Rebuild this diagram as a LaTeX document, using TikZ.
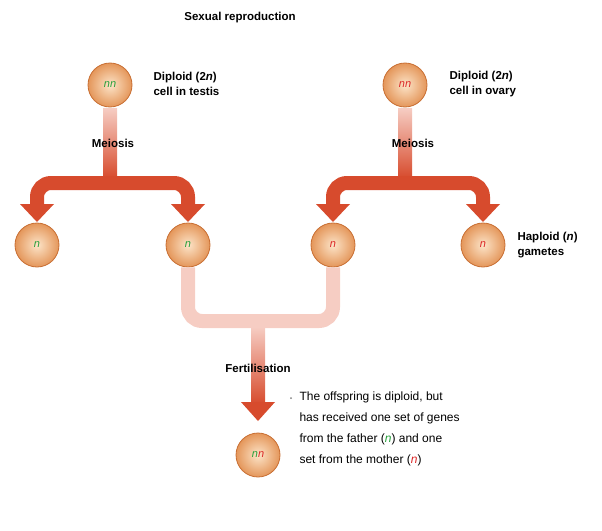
\documentclass[tikz,border=0pt]{standalone}
\usepackage{fontspec}
\setmainfont{Liberation Sans}
\begin{document}
\begin{tikzpicture}[x=1pt,y=-1pt,
  cell/.style={circle,minimum size=44pt,inner sep=0pt,draw=cb,line width=0.8pt,inner color=ci,outer color=co,font=\itshape\fontsize{11}{12}\selectfont},
  bl/.style={font=\bfseries\fontsize{11.5}{15}\selectfont},
  lab/.style={bl,align=left,anchor=west},
  arr/.style={fill=ar,draw=none},
  band/.style={draw=ar,line width=14pt,rounded corners=14pt}]
\definecolor{pg}{RGB}{40,160,60}
\definecolor{pr}{RGB}{220,40,40}
\definecolor{ar}{RGB}{215,75,45}
\definecolor{pk}{RGB}{246,205,195}
\definecolor{ci}{RGB}{252,228,200}
\definecolor{co}{RGB}{228,150,90}
\definecolor{cb}{RGB}{200,110,50}
\useasboundingbox (0,0) rectangle (602,530);
\node[bl] (title) at (240,18) {Sexual reproduction};
\node[cell] (f) at (110,85) {\color{pg}nn};
\node[cell] (m) at (405,85) {\color{pr}nn};
\node[cell] (g1) at (37,245) {\color{pg}n};
\node[cell] (g2) at (188,245) {\color{pg}n};
\node[cell] (g3) at (333,245) {\color{pr}n};
\node[cell] (g4) at (483,245) {\color{pr}n};
\node[cell] (z) at (258,455) {\color{pg}n\color{pr}n};
\foreach \c/\a/\b in {110/37/188, 405/333/483}{
  \shade[top color=pk,bottom color=ar] (\c-7,108) rectangle (\c+7,178);
  \draw[band] (\a,206) -- (\a,183) -- (\b,183) -- (\b,206);
  \fill[arr] (\a-17,204) -- (\a+17,204) -- (\a,222) -- cycle;
  \fill[arr] (\b-17,204) -- (\b+17,204) -- (\b,222) -- cycle;
}
\draw[band,draw=pk] (g2.south) -- (188,321) -- (333,321) -- (g3.south);
\shade[top color=pk,bottom color=ar] (251,327) rectangle (265,404);
\fill[arr] (241,402) -- (275,402) -- (258,421) -- cycle;
\node[bl] (mei1) at (113,143) {Meiosis};
\node[bl] (mei2) at (413,143) {Meiosis};
\node[bl] (fert) at (258,368) {Fertilisation};
\node[lab] (lf) at (150,84) {Diploid (2\textit{n})\\cell in testis};
\node[lab] (lm) at (446,84) {Diploid (2\textit{n})\\cell in ovary};
\node[lab] (lh) at (514,245) {Haploid (\textit{n})\\gametes};
\node[font=\fontsize{12}{21}\selectfont,align=left,anchor=north west] (txt) at (296,388) {The offspring is diploid, but\\has received one set of genes\\from the father (\textit{\color{pg}n}) and one\\set from the mother (\textit{\color{pr}n})};
\fill[gray] (291,398) circle (1pt);
\end{tikzpicture}
\end{document}
